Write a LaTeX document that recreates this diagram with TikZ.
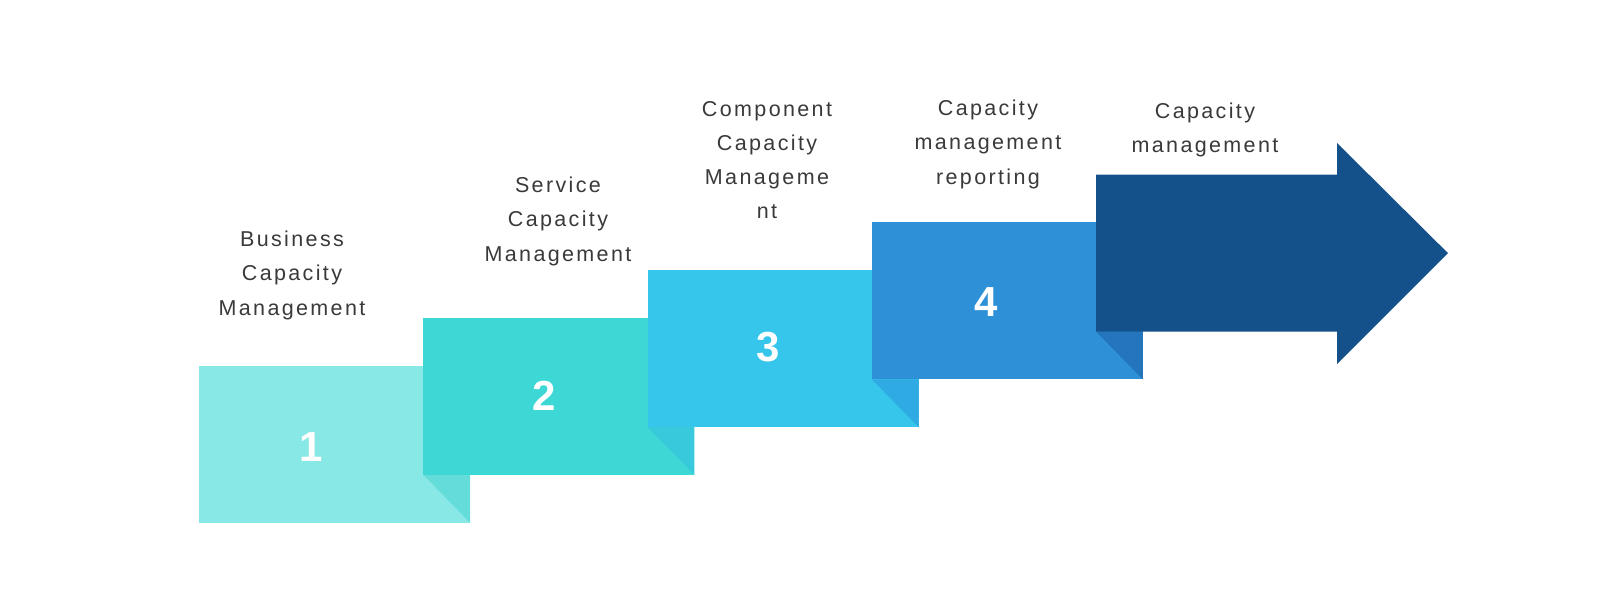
\documentclass[tikz,border=0pt]{standalone}
\usepackage{fontspec}
\setmainfont{Liberation Sans}
\definecolor{txt}{HTML}{3A3A3A}
\definecolor{bA}{HTML}{87E8E5}
\definecolor{bB}{HTML}{3DD8D6}
\definecolor{bC}{HTML}{36C6EC}
\definecolor{bD}{HTML}{2E90D6}
\definecolor{bE}{HTML}{14508A}
\definecolor{sA}{HTML}{64DCD9}
\definecolor{sB}{HTML}{38CADC}
\definecolor{sC}{HTML}{2FAAE2}
\definecolor{sD}{HTML}{2475BC}
\begin{document}
\begin{tikzpicture}[x=1pt,y=-1pt,
  lbl/.style={anchor=north,inner sep=0pt,align=center,text=txt,
    font=\fontsize{21.5}{34.2}\selectfont\addfontfeature{LetterSpace=11}},
  num/.style={text=white,inner sep=0pt,font=\fontsize{42}{42}\selectfont\bfseries}]
\useasboundingbox[fill=white] (0,0) rectangle (1622,596);
\def\dx{224.3}\def\dy{47.7}\def\w{271}\def\h{157}
% step boxes with shadow triangles
\foreach \i/\c/\s/\n/\px/\py in {0/bA/sA/1/311/447,1/bB/sB/2/544/396,2/bC/sC/3/768/347,3/bD/sD/4/986/302}{
  \pgfmathsetmacro{\xa}{199+\i*\dx}
  \pgfmathsetmacro{\ya}{365.5-\i*\dy}
  \fill[\c] (\xa,\ya) rectangle ++(\w,\h);
  \fill[\s] (\xa+\dx,\ya+\h-\dy) -- (\xa+\w,\ya+\h-\dy) -- (\xa+\w,\ya+\h) -- cycle;
  \node[num] (n\n) at (\px,\py) {\n};
}
% big arrow
\fill[bE] (1096.2,174.7) -- (1337,174.7) -- (1337,143) -- (1448,253.2)
  -- (1337,364) -- (1337,331.7) -- (1096.2,331.7) -- cycle;
% labels
\node[lbl] (t1) at (292,231) {Business\\Capacity\\Management};
\node[lbl] (t2) at (558,177) {Service\\Capacity\\Management};
\node[lbl] (t3) at (767,101) {Component\\Capacity\\Manageme\\nt};
\node[lbl] (t4) at (988,100) {Capacity\\management\\reporting};
\node[lbl] (t5) at (1205,103) {Capacity\\management};
\end{tikzpicture}
\end{document}
